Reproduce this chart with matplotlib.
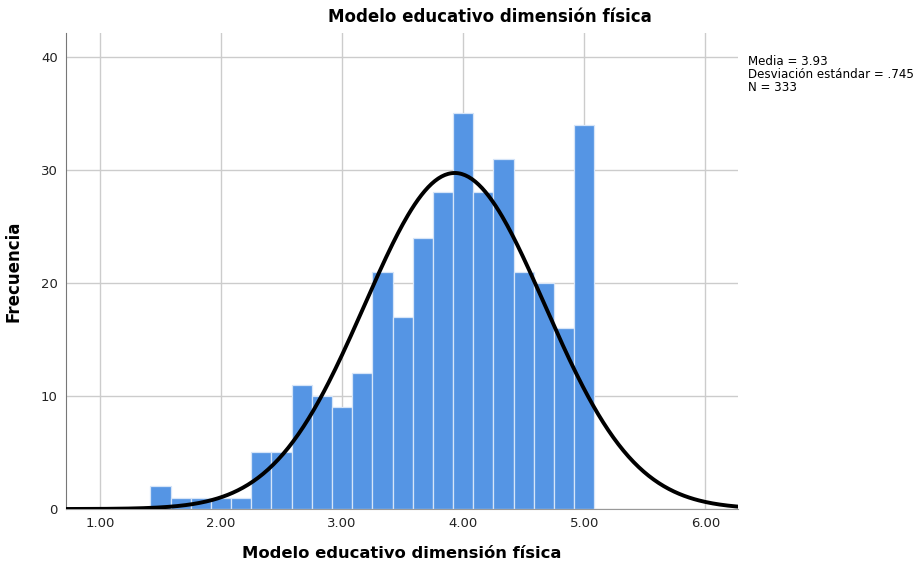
"""Histogram with fitted normal curve: Modelo educativo dimensión física."""

import numpy as np
import matplotlib
matplotlib.use("Agg")
import matplotlib.pyplot as plt

# -- data --
bin_start = 1.0 + 2.5 / 6
bin_width = 1.0 / 6
counts = [2, 1, 1, 1, 1, 5, 5, 11, 10, 9, 12, 21, 17, 24, 28, 35, 28, 31, 21, 20, 16, 34]
mean = 3.93
std = 0.745
n_total = 333
x_ticks = [1.0, 2.0, 3.0, 4.0, 5.0, 6.0]
y_ticks = [0, 10, 20, 30, 40]
title = "Modelo educativo dimensión física"

bar_color = "#5595e4"

fig = plt.figure(figsize=(9.21, 5.69), dpi=100)
ax = fig.add_axes([0.0717, 0.1054, 0.7296, 0.8366])

lefts = bin_start + bin_width * np.arange(len(counts))
ax.bar(lefts, counts, width=bin_width, align="edge", color=bar_color,
       edgecolor="#d6e5f8", linewidth=0.9, zorder=2)

# fitted normal curve scaled to counts
xs = np.linspace(0.72, 6.27, 400)
pdf = np.exp(-0.5 * ((xs - mean) / std) ** 2) / (std * np.sqrt(2 * np.pi))
ax.plot(xs, n_total * bin_width * pdf, color="black", linewidth=2.8,
        zorder=3, solid_capstyle="round")

ax.set_xlim(0.72, 6.27)
ax.set_ylim(0, 42.1)
ax.set_xticks(x_ticks)
ax.set_xticklabels([f"{t:.2f}" for t in x_ticks])
ax.set_yticks(y_ticks)
ax.grid(True, color="#cccccc", linewidth=1.0, zorder=0)
ax.set_axisbelow(True)
ax.tick_params(length=0, labelsize=9.5, labelcolor="#222222", pad=6)

for side in ("top", "right"):
    ax.spines[side].set_visible(False)
ax.spines["left"].set_color("#777777")
ax.spines["bottom"].set_color("#999999")

ax.set_xlabel(title, fontsize=11.8, fontweight="bold", labelpad=11)
ax.set_ylabel("Frecuencia", fontsize=12, fontweight="bold", labelpad=13)
fig.text(490 / 921, 1 - 17 / 569, title, ha="center", va="center",
         fontsize=12, fontweight="bold")

stats = f"Media = {mean:.2f}\nDesviación estándar = .745\nN = {n_total}"
fig.text(748 / 921, 1 - 55 / 569, stats, ha="left", va="top",
         fontsize=8.6, linespacing=1.0)

fig.savefig("out.png", dpi=100)
